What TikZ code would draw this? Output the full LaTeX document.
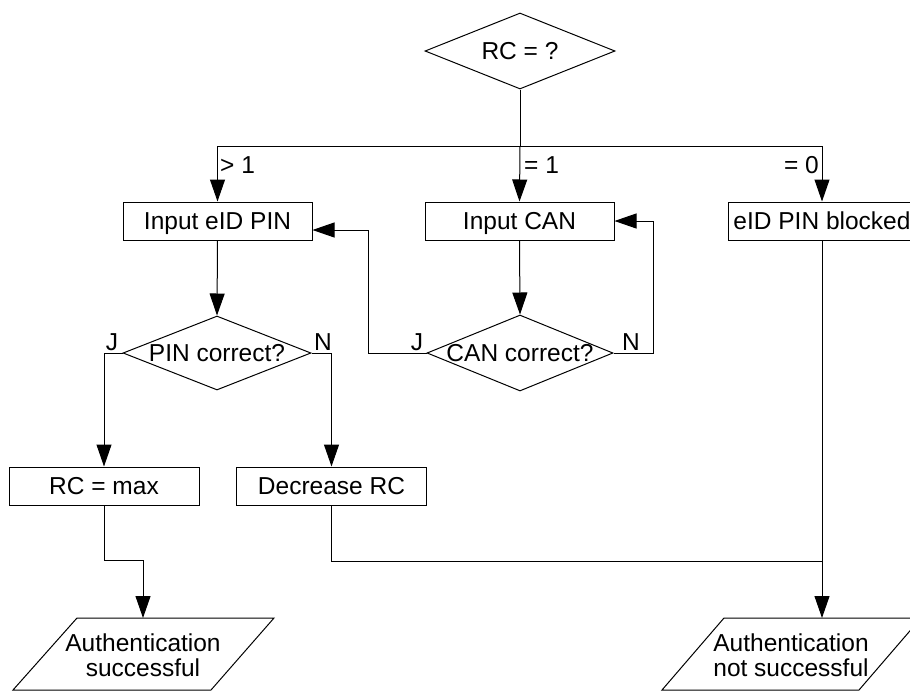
\documentclass[tikz,border=0pt]{standalone}
\usepackage{fontspec}
\setmainfont{Liberation Sans}
\usetikzlibrary{shapes.geometric,arrows.meta}
\begin{document}
\begin{tikzpicture}[x=1pt,y=-1pt,
  every node/.style={font=\fontsize{24.5}{25.5}\selectfont},
  box/.style={draw,line width=1pt,minimum width=189pt,minimum height=38pt,inner sep=0pt,text depth=0pt},
  dec/.style={draw,diamond,line width=1pt,inner sep=0pt},
  txt/.style={inner sep=0pt,align=center},
  dtxt/.style={inner sep=0pt,text depth=0pt},
  lbl/.style={inner sep=0pt},
  conn/.style={line width=1pt},
  arr/.style={line width=1pt,-{Triangle[length=22pt,width=15pt]}}]
\useasboundingbox (0,0) rectangle (910,691);

% decisions
\node[dec,minimum width=190pt,minimum height=76pt] (rc) at (520,51) {};
\node[dtxt] (rctxt) at (rc) {RC = ?};
\node[dec,minimum width=188pt,minimum height=74pt] (pincor) at (217,353) {};
\node[dtxt] (pincortxt) at (pincor) {PIN correct?};
\node[dec,minimum width=186pt,minimum height=76pt] (cancor) at (520,353) {};
\node[dtxt] (cancortxt) at (cancor) {CAN correct?};

% boxes
\node[box] (pinin) at (217.5,221) {Input eID PIN};
\node[box] (canin) at (519.5,221) {Input CAN};
\node[box,minimum width=188pt] (blocked) at (822,221) {eID PIN blocked};
\node[box,minimum width=190pt] (rcmax) at (104,486) {RC = max};
\node[box,minimum width=190pt] (decr) at (331.5,486) {Decrease RC};

% outputs (parallelograms)
\draw[conn] (77,618) -- (274,618) -- (211,690) -- (13,690) -- cycle;
\node[txt] (succ) at (143,655) {Authentication\\successful};
\coordinate (succtop) at (143,618);
\draw[conn] (724,618) -- (921,618) -- (859,690) -- (662,690) -- cycle;
\node[txt] (fail) at (791,655) {Authentication\\not successful};
\coordinate (failtop) at (822,618);

% connectors
\coordinate (split) at (520,146);
\coordinate (merge) at (822,561);
\draw[conn] (rc.south) -- (split);
\draw[arr] (split) -| (pinin.north);
\draw[arr] (split) -- (canin.north);
\draw[arr] (split) -| (blocked.north);
\draw[arr] (pinin.south) -- (pincor.north);
\draw[arr] (canin.south) -- (cancor.north);
\draw[arr] (pincor.west) -| (rcmax.north);
\draw[arr] (pincor.east) -| (decr.north);
\draw[arr] (cancor.west) -- ++(-58,0) |- ([yshift=-9pt]pinin.east);
\draw[arr] (cancor.east) -- ++(40,0) |- (canin.east);
\draw[arr] (rcmax.south) -- ++(0,55) -| (succtop);
\draw[conn] (decr.south) |- (merge);
\draw[arr] (blocked.south) -- (failtop);

% labels
\node[lbl,anchor=base west] (l1) at (220,173) {> 1};
\node[lbl,anchor=base west] (l2) at (524,173) {= 1};
\node[lbl,anchor=base east] (l3) at (819,173) {= 0};
\node[lbl,anchor=base] (pj) at (112,350) {J};
\node[lbl,anchor=base] (pn) at (323,350) {N};
\node[lbl,anchor=base] (cj) at (417,350) {J};
\node[lbl,anchor=base] (cn) at (631,350) {N};
\end{tikzpicture}
\end{document}
